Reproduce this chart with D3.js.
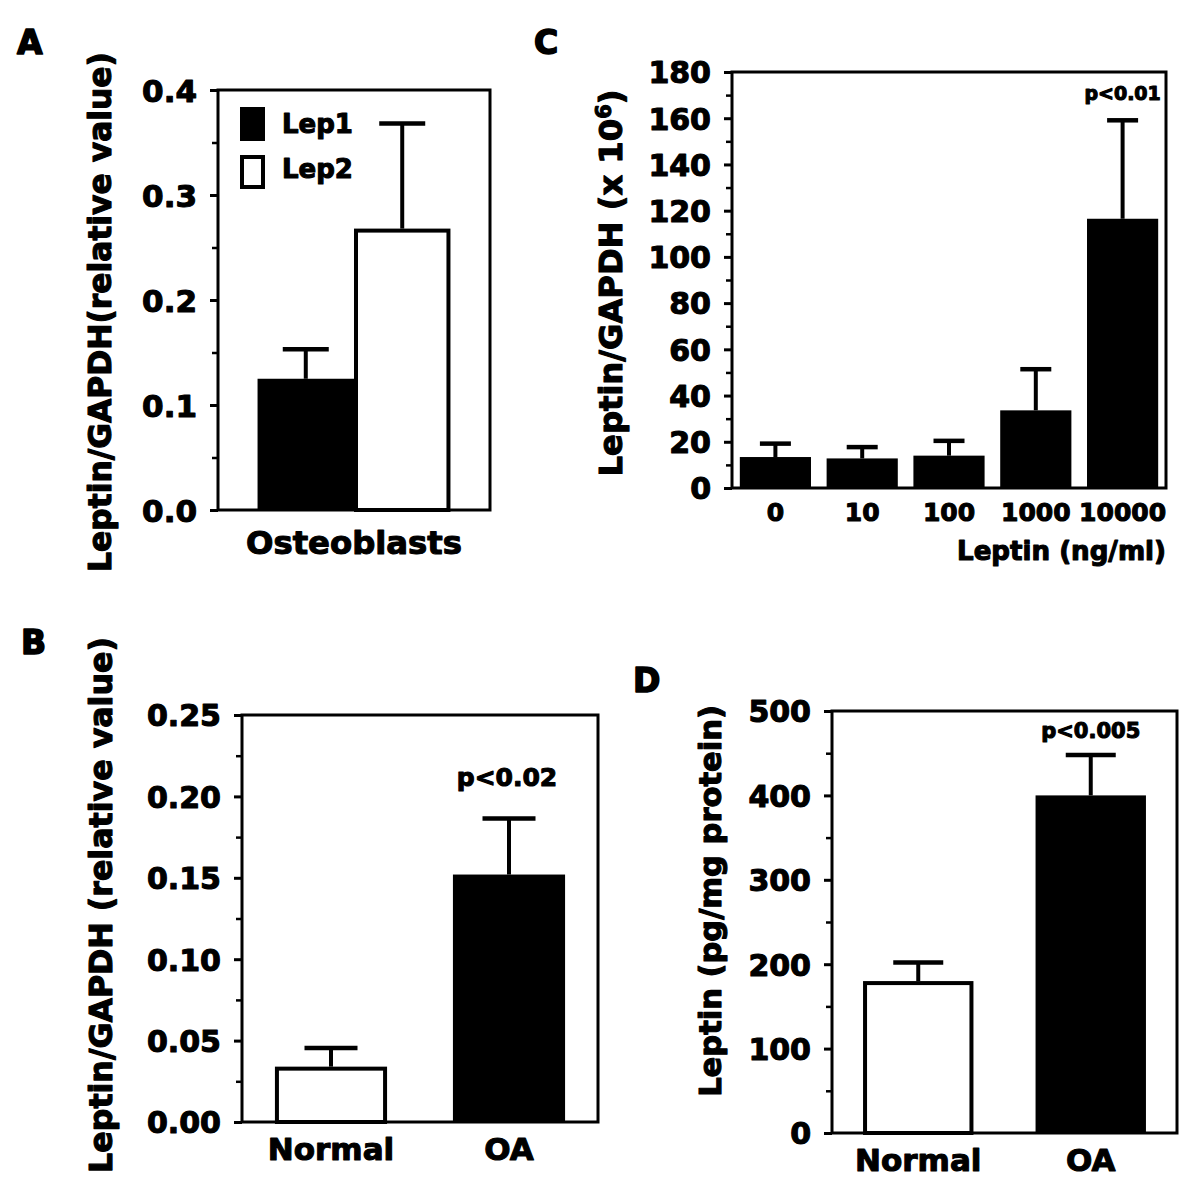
<!DOCTYPE html>
<html>
<head>
<meta charset="utf-8">
<script src="https://cdn.jsdelivr.net/npm/d3@7"></script>
<style>
  html, body { margin: 0; padding: 0; background: #fff; }
  svg { display: block; }
</style>
</head>
<body>
<svg id="chart" width="1200" height="1200"></svg>
<script>
// ---------------- DATA ----------------
// Panel A
const aCategories = ["Osteoblasts"];
const aSeries = ["Lep1", "Lep2"];
const aValues = [0.125, 0.268];
const aErrors = [0.028, 0.100];
const aTicks = [0.0, 0.1, 0.2, 0.3, 0.4];
const aMinorTicks = [0.05, 0.15, 0.25, 0.35];

// Panel B
const bCategories = ["Normal", "OA"];
const bValues = [0.034, 0.152];
const bErrors = [0.0115, 0.0345];
const bTicks = [0.00, 0.05, 0.10, 0.15, 0.20, 0.25];
const bMinorTicks = [0.025, 0.075, 0.125, 0.175, 0.225];

// Panel C
const cCategories = ["0", "10", "100", "1000", "10000"];
const cValues = [13.4, 12.8, 14.0, 33.6, 116.5];
const cErrors = [5.8, 4.9, 6.4, 17.8, 42.6];
const cTicks = [0, 20, 40, 60, 80, 100, 120, 140, 160, 180];
const cMinorTicks = [10, 30, 50, 70, 90, 110, 130, 150, 170];

// Panel D
const dCategories = ["Normal", "OA"];
const dValues = [180, 400];
const dErrors = [22, 48];
const dTicks = [0, 100, 200, 300, 400, 500];
const dMinorTicks = [50, 150, 250, 350, 450];

// ---------------- DRAWING ----------------
const FONT = "'DejaVu Sans', 'Liberation Sans', Arial, sans-serif";
const svg = d3.select("#chart");
svg.append("rect").attr("width", 1200).attr("height", 1200).attr("fill", "#fff");

function styleText(sel, size) {
  return sel.attr("font-family", FONT).attr("font-weight", "bold")
    .attr("font-size", size).attr("fill", "#000")
    .attr("stroke", "#000").attr("stroke-width", 1.1).attr("stroke-linejoin", "round");
}
function fitText(sel, target) {
  const w = sel.node().getComputedTextLength();
  const fs = parseFloat(sel.attr("font-size"));
  sel.attr("font-size", fs * target / w);
}

function yAxis(g, cfg, y) {
  const major = g.append("g").attr("transform", `translate(${cfg.left},0)`)
    .call(d3.axisLeft(y).tickValues(cfg.ticks).tickSize(8).tickPadding(13).tickFormat(cfg.fmt));
  major.select(".domain").remove();
  major.selectAll("line").attr("stroke", "#000").attr("stroke-width", 3);
  styleText(major.selectAll("text"), cfg.tickFont).attr("dy", "0.36em");
  const minor = g.append("g").attr("transform", `translate(${cfg.left},0)`)
    .call(d3.axisLeft(y).tickValues(cfg.minor).tickSize(6).tickFormat(""));
  minor.select(".domain").remove();
  minor.selectAll("line").attr("stroke", "#000").attr("stroke-width", 2.5);
}

function errorBars(g, items, capW) {
  items.forEach(d => {
    g.append("line").attr("x1", d.cx).attr("x2", d.cx)
      .attr("y1", d.y0).attr("y2", d.y1)
      .attr("stroke", "#000").attr("stroke-width", 4);
    g.append("line").attr("x1", d.cx - capW / 2).attr("x2", d.cx + capW / 2)
      .attr("y1", d.y1).attr("y2", d.y1)
      .attr("stroke", "#000").attr("stroke-width", 4.5);
  });
}

function drawBar(g, x, w, yTop, yBottom, filled) {
  if (filled) {
    g.append("rect").attr("x", x).attr("y", yTop).attr("width", w)
      .attr("height", yBottom - yTop).attr("fill", "#000");
  } else {
    g.append("rect").attr("x", x + 2).attr("y", yTop + 2).attr("width", w - 4)
      .attr("height", yBottom - yTop - 2).attr("fill", "#fff")
      .attr("stroke", "#000").attr("stroke-width", 4);
  }
}

function frame(g, cfg) {
  g.append("rect").attr("x", cfg.left).attr("y", cfg.top)
    .attr("width", cfg.right - cfg.left).attr("height", cfg.bottom - cfg.top)
    .attr("fill", "none").attr("stroke", "#000").attr("stroke-width", 3);
}

function yTitle(g, label, x, cy, target, sup) {
  const t = g.append("text").attr("text-anchor", "middle")
    .attr("transform", `translate(${x},${cy}) rotate(-90)`);
  styleText(t, 30);
  if (sup) {
    t.append("tspan").text(label);
    t.append("tspan").text(sup).attr("font-size", "0.65em").attr("dy", "-0.55em");
    t.append("tspan").text(")").attr("dy", "0.36em");
  } else {
    t.text(label);
  }
  fitText(t, target);
}

function panelLabel(txt, x, y) {
  styleText(svg.append("text").attr("x", x).attr("y", y).text(txt), 33).attr("stroke-width", 1.6);
}

// ---------- Panel A ----------
(function () {
  const cfg = { left: 218, right: 490, top: 90, bottom: 510, ticks: aTicks, minor: aMinorTicks,
                fmt: d3.format(".1f"), tickFont: 31 };
  const g = svg.append("g");
  const y = d3.scaleLinear().domain([0, 0.4]).range([cfg.bottom, cfg.top]);
  const x0 = d3.scaleBand().domain(aCategories).range([cfg.left, cfg.right]).paddingOuter(0.205).paddingInner(0);
  const x1 = d3.scaleBand().domain(aSeries).range([0, x0.bandwidth()]);
  const fills = [true, false];
  const errs = [];
  aSeries.forEach((s, i) => {
    const bx = x0(aCategories[0]) + x1(s);
    drawBar(g, bx, x1.bandwidth(), y(aValues[i]), cfg.bottom, fills[i]);
    errs.push({ cx: bx + x1.bandwidth() / 2, y0: y(aValues[i]), y1: y(aValues[i] + aErrors[i]) });
  });
  errorBars(g, errs, 46);
  frame(g, cfg);
  yAxis(g, cfg, y);
  // legend
  aSeries.forEach((s, i) => {
    const ly = [107, 155][i];
    if (fills[i]) {
      g.append("rect").attr("x", 240).attr("y", ly).attr("width", 25).attr("height", 34).attr("fill", "#000");
    } else {
      g.append("rect").attr("x", 242).attr("y", ly + 2).attr("width", 21).attr("height", 30)
        .attr("fill", "#fff").attr("stroke", "#000").attr("stroke-width", 4);
    }
    styleText(g.append("text").attr("x", 282).attr("y", [133, 178][i]).text(s), 26);
  });
  const xl = g.append("text").attr("x", x0(aCategories[0]) + x0.bandwidth() / 2).attr("y", 554)
    .attr("text-anchor", "middle").text(aCategories[0]);
  styleText(xl, 31); fitText(xl, 216);
  yTitle(g, "Leptin/GAPDH(relative value)", 111, 312, 520);
  panelLabel("A", 17, 54);
})();

// ---------- Panel C ----------
(function () {
  const cfg = { left: 732, right: 1166, top: 72, bottom: 488, ticks: cTicks, minor: cMinorTicks,
                fmt: d3.format("d"), tickFont: 30 };
  const g = svg.append("g");
  const y = d3.scaleLinear().domain([0, 180]).range([cfg.bottom, cfg.top]);
  const x = d3.scaleBand().domain(cCategories).range([cfg.left, cfg.right]).paddingInner(0.18).paddingOuter(0.09);
  const errs = [];
  cCategories.forEach((c, i) => {
    drawBar(g, x(c), x.bandwidth(), y(cValues[i]), cfg.bottom, true);
    errs.push({ cx: x(c) + x.bandwidth() / 2, y0: y(cValues[i]), y1: y(cValues[i] + cErrors[i]) });
  });
  errorBars(g, errs, 31);
  frame(g, cfg);
  yAxis(g, cfg, y);
  cCategories.forEach(c => {
    styleText(g.append("text").attr("x", x(c) + x.bandwidth() / 2).attr("y", 521)
      .attr("text-anchor", "middle").text(c), 25);
  });
  const xt = g.append("text").attr("x", 1166).attr("y", 560).attr("text-anchor", "end").text("Leptin (ng/ml)");
  styleText(xt, 26); fitText(xt, 209);
  const last = cCategories.length - 1;
  styleText(g.append("text").attr("x", x(cCategories[last]) + x.bandwidth() / 2)
    .attr("y", y(cValues[last] + cErrors[last]) - 20).attr("text-anchor", "middle").text("p<0.01"), 19);
  yTitle(g, "Leptin/GAPDH (x 10", 622, 283, 387, "6");
  panelLabel("C", 534, 54);
})();

// ---------- Panel B ----------
(function () {
  const cfg = { left: 242, right: 598, top: 715, bottom: 1122, ticks: bTicks, minor: bMinorTicks,
                fmt: d3.format(".2f"), tickFont: 30 };
  const g = svg.append("g");
  const y = d3.scaleLinear().domain([0, 0.25]).range([cfg.bottom, cfg.top]);
  const x = d3.scaleBand().domain(bCategories).range([cfg.left, cfg.right]).paddingInner(0.37).paddingOuter(0.185);
  const fills = [false, true];
  const errs = [];
  bCategories.forEach((c, i) => {
    drawBar(g, x(c), x.bandwidth(), y(bValues[i]), cfg.bottom, fills[i]);
    errs.push({ cx: x(c) + x.bandwidth() / 2, y0: y(bValues[i]), y1: y(bValues[i] + bErrors[i]) });
  });
  errorBars(g, errs, 53);
  frame(g, cfg);
  yAxis(g, cfg, y);
  bCategories.forEach(c => {
    styleText(g.append("text").attr("x", x(c) + x.bandwidth() / 2).attr("y", 1160)
      .attr("text-anchor", "middle").text(c), 31);
  });
  styleText(g.append("text").attr("x", x("OA") + x.bandwidth() / 2 - 2)
    .attr("y", y(bValues[1] + bErrors[1]) - 32).attr("text-anchor", "middle").text("p<0.02"), 25);
  yTitle(g, "Leptin/GAPDH (relative value)", 112, 905, 536);
  panelLabel("B", 21, 654);
})();

// ---------- Panel D ----------
(function () {
  const cfg = { left: 832, right: 1177, top: 711, bottom: 1133, ticks: dTicks, minor: dMinorTicks,
                fmt: d3.format("d"), tickFont: 30 };
  const g = svg.append("g");
  const y = d3.scaleLinear().domain([0, 500]).range([cfg.bottom, cfg.top]);
  const x = d3.scaleBand().domain(dCategories).range([cfg.left, cfg.right]).paddingInner(0.36).paddingOuter(0.18);
  const fills = [false, true];
  const errs = [];
  dCategories.forEach((c, i) => {
    drawBar(g, x(c), x.bandwidth(), y(dValues[i]), cfg.bottom, fills[i]);
    errs.push({ cx: x(c) + x.bandwidth() / 2, y0: y(dValues[i]), y1: y(dValues[i] + dErrors[i]) });
  });
  errorBars(g, errs, 50);
  frame(g, cfg);
  yAxis(g, cfg, y);
  dCategories.forEach(c => {
    styleText(g.append("text").attr("x", x(c) + x.bandwidth() / 2).attr("y", 1171)
      .attr("text-anchor", "middle").text(c), 31);
  });
  styleText(g.append("text").attr("x", x("OA") + x.bandwidth() / 2)
    .attr("y", y(dValues[1] + dErrors[1]) - 17).attr("text-anchor", "middle").text("p<0.005"), 21);
  yTitle(g, "Leptin (pg/mg protein)", 721, 901, 392);
  panelLabel("D", 633, 692);
})();
</script>
</body>
</html>
